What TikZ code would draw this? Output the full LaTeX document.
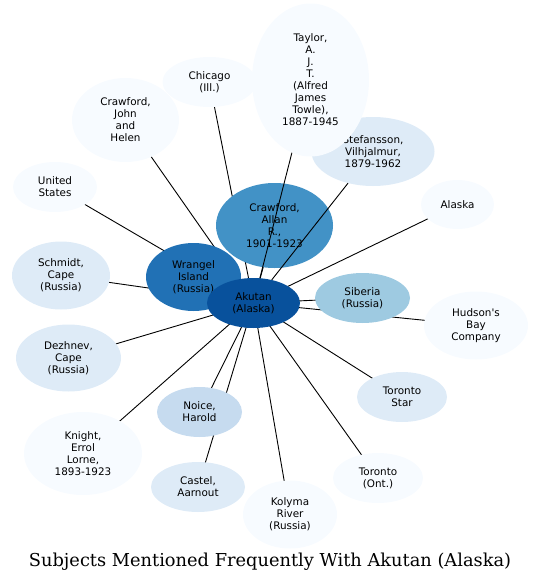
\documentclass[tikz,border=0pt]{standalone}
\usepackage{fontspec}
\usetikzlibrary{shapes.geometric,backgrounds}
\newfontfamily\dvsfam{DejaVu Sans}
\newfontfamily\dvserif{DejaVu Serif}
\newcommand\ndfont{\dvsfam\fontsize{10.4}{12}\selectfont}
\definecolor{b1}{HTML}{F7FBFF}
\definecolor{b2}{HTML}{DEEBF7}
\definecolor{b3}{HTML}{C6DBEF}
\definecolor{b4}{HTML}{9ECAE1}
\definecolor{b6}{HTML}{4292C6}
\definecolor{b7}{HTML}{2171B5}
\definecolor{b8}{HTML}{08519C}
\tikzset{
  nd/.style={ellipse, inner sep=0pt, align=center, font=\ndfont, text=black},
  sz/.style 2 args={minimum width=#1pt, minimum height=#2pt},
  link/.style={draw=black, line width=0.9pt}
}
\begin{document}
\begin{tikzpicture}[x=1pt,y=-1pt]
\useasboundingbox (0,0) rectangle (540,584);
% nodes
\node[nd, fill=b2, sz={123}{69}] (stef) at (373,151.5) {Stefansson,\\Vilhjalmur,\\1879-1962};
\node[nd, fill=b1, sz={117}{153}] (taylor) at (310.5,80) {Taylor,\\A.\\J.\\T.\\(Alfred\\James\\Towle),\\1887-1945};
\node[nd, fill=b1, sz={94}{50}] (chicago) at (209.5,82) {Chicago\\(Ill.)};
\node[nd, fill=b1, sz={107}{84}] (cjohn) at (125.5,120) {Crawford,\\John\\and\\Helen};
\node[nd, fill=b1, sz={84}{50}] (us) at (55,187) {United\\States};
\node[nd, fill=b1, sz={73}{49}] (alaska) at (457.5,204.5) {Alaska};
\node[nd, fill=b2, sz={98}{68}] (schmidt) at (61,275.5) {Schmidt,\\Cape\\(Russia)};
\node[nd, fill=b1, sz={104}{68}] (hudson) at (476,325.5) {Hudson's\\Bay\\Company};
\node[nd, fill=b2, sz={105}{67}] (dezhnev) at (68.5,358) {Dezhnev,\\Cape\\(Russia)};
\node[nd, fill=b2, sz={90}{50}] (tstar) at (402,397) {Toronto\\Star};
\node[nd, fill=b3, sz={85}{50}] (noice) at (199.5,412) {Noice,\\Harold};
\node[nd, fill=b1, sz={118}{83}] (knight) at (83,453.5) {Knight,\\Errol\\Lorne,\\1893-1923};
\node[nd, fill=b1, sz={90}{50}] (tont) at (378,478) {Toronto\\(Ont.)};
\node[nd, fill=b2, sz={94}{50}] (castel) at (198,487) {Castel,\\Aarnout};
\node[nd, fill=b1, sz={94}{68}] (kolyma) at (290,514.5) {Kolyma\\River\\(Russia)};
\node[nd, fill=b4, sz={95}{50}] (siberia) at (362.5,298) {Siberia\\(Russia)};
\node[nd, fill=b6, sz={117}{85}] (callan) at (274.5,225.5) {Crawford,\\Allan\\R.,\\1901-1923};
\node[nd, fill=b7, sz={95}{68}] (wrangel) at (193.5,277) {Wrangel\\Island\\(Russia)};
\node[nd, fill=b8, sz={93}{50}] (akutan) at (253.5,303) {Akutan\\(Alaska)};
% edges drawn over Crawford, Allan
\draw[link] (akutan) -- (taylor);
\draw[link] (akutan) -- (stef);
% edges under nodes
\begin{pgfonlayer}{background}
\foreach \t in {chicago,cjohn,us,alaska,schmidt,hudson,dezhnev,tstar,noice,knight,tont,castel,kolyma,siberia,callan,wrangel}
  \draw[link] (akutan.center) -- (\t.center);
\end{pgfonlayer}
% title
\node[font=\dvserif\fontsize{17.8}{20}\selectfont] (title) at (270,562) {Subjects Mentioned Frequently With Akutan (Alaska)};
\end{tikzpicture}
\end{document}
